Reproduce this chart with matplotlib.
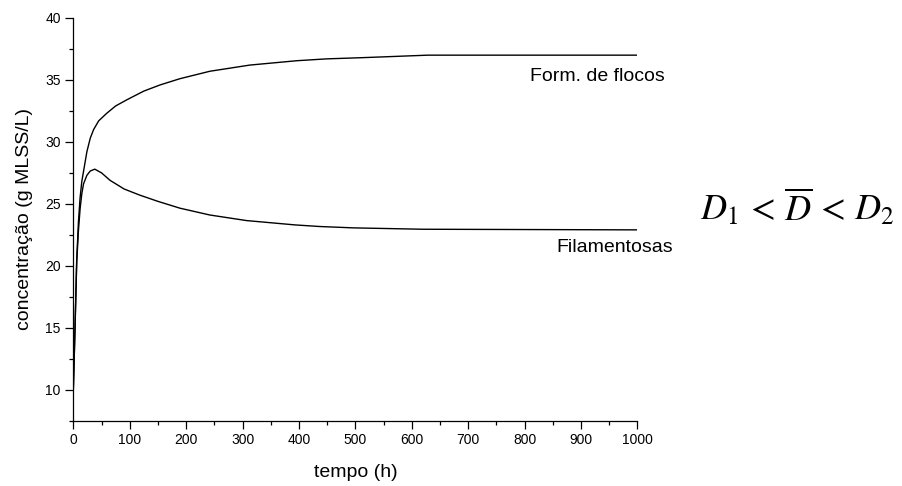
import numpy as np
import matplotlib.pyplot as plt
from matplotlib.ticker import MultipleLocator

plt.rcParams['font.family'] = ['Liberation Sans', 'DejaVu Sans']
plt.rcParams['mathtext.fontset'] = 'stix'

# tempo (h) e concentração das duas populações
t_flocos = [0, 3, 6, 9, 12, 15, 18, 24, 30, 36, 45, 59, 75, 95, 125, 154, 189,
            242, 313, 396, 449, 514, 629, 1000]
c_flocos = [10, 15, 20.5, 23.5, 25.5, 26.8, 27.6, 29.2, 30.3, 31.0, 31.7, 32.3,
            32.9, 33.4, 34.1, 34.6, 35.1, 35.7, 36.2, 36.55, 36.7, 36.8, 37.0, 37.0]

t_fil = [0, 3, 6, 9, 12, 15, 18, 24, 30, 38, 50, 65, 90, 118, 150, 189, 242,
         307, 393, 437, 497, 620, 1000]
c_fil = [10, 15, 20.3, 22.8, 24.6, 25.8, 26.6, 27.3, 27.65, 27.8, 27.5, 26.9,
         26.2, 25.7, 25.2, 24.65, 24.1, 23.65, 23.3, 23.17, 23.06, 22.95, 22.9]

fig = plt.figure(figsize=(9.02, 4.86), dpi=100)
ax = fig.add_axes([0.0813, 0.1344, 0.6253, 0.8286])

ax.plot(t_flocos, c_flocos, color='black', lw=1.0)
ax.plot(t_fil, c_fil, color='black', lw=1.0)

ax.set_xlim(0, 1000)
ax.set_ylim(7.5, 40)
ax.xaxis.set_major_locator(MultipleLocator(100))
ax.xaxis.set_minor_locator(MultipleLocator(50))
ax.yaxis.set_major_locator(MultipleLocator(5))
ax.yaxis.set_minor_locator(MultipleLocator(2.5))

for s in ['top', 'right']:
    ax.spines[s].set_visible(False)
for s in ['left', 'bottom']:
    ax.spines[s].set_linewidth(0.9)
ax.tick_params(which='major', direction='out', length=5.5, width=0.9, labelsize=10)
ax.tick_params(which='minor', direction='out', length=3, width=0.9)

ax.set_xlabel('tempo (h)', fontsize=14, labelpad=12)
ax.set_ylabel('concentração (g MLSS/L)', fontsize=14, labelpad=9)

ax.text(930, 35.3, 'Form. de flocos', fontsize=14, ha='center', va='center',
        clip_on=False)
ax.text(959, 21.5, 'Filamentosas', fontsize=14, ha='center', va='center',
        clip_on=False)

fig.text(0.884, 0.573, r'$D_1\,<\,\overline{D}\,<\,D_2$', fontsize=26,
         ha='center', va='center')

fig.savefig('out.png', dpi=100)
